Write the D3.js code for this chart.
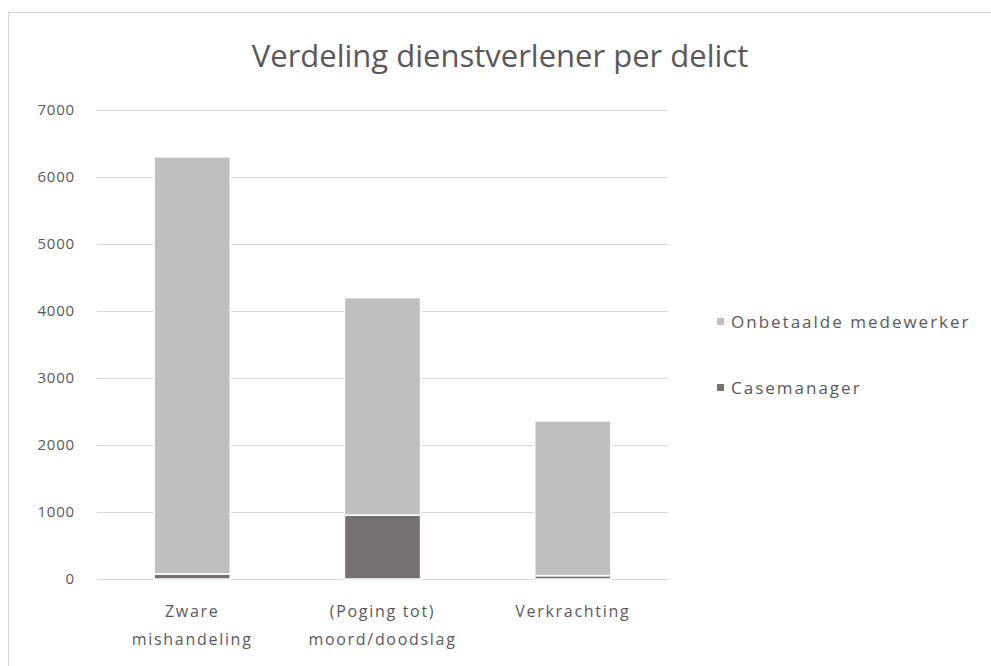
<!DOCTYPE html>
<html>
<head>
<meta charset="utf-8">
<script src="https://cdn.jsdelivr.net/npm/d3@7"></script>
<style>
  body { margin: 0; background: #fff; }
  svg text { font-family: "Open Sans", "Noto Sans", sans-serif; fill: #595959; }
</style>
</head>
<body>
<svg width="991" height="666"></svg>
<script>
// categories, two stacked series
var categories = [["Zware", "mishandeling"], ["(Poging tot)", "moord/doodslag"], ["Verkrachting"]];
var casemanager = [75, 955, 50];
var onbetaald = [6225, 3245, 2310];
var series = ["Casemanager", "Onbetaalde medewerker"];
var colors = ["#767171", "#bfbfbf"];
var yTicks = [0, 1000, 2000, 3000, 4000, 5000, 6000, 7000];

var svg = d3.select("svg");

// chart border
svg.append("rect")
    .attr("x", 8.5).attr("y", 12.5)
    .attr("width", 1200).attr("height", 800)
    .attr("fill", "none").attr("stroke", "#d9d9d9");

svg.append("text")
    .attr("x", 500).attr("y", 67)
    .attr("text-anchor", "middle")
    .style("font-size", "31px")
    .text("Verdeling dienstverlener per delict");

var pLeft = 97, pRight = 668, pTop = 110, pBottom = 579;

var xs = d3.scaleBand().domain(d3.range(categories.length)).range([pLeft, pRight]).paddingInner(0.6).paddingOuter(0.3);
var ys = d3.scaleLinear().domain([0, 7000]).range([pBottom, pTop]);

// gridlines
svg.append("g").selectAll("line").data(yTicks).enter().append("line")
    .attr("x1", pLeft).attr("x2", pRight)
    .attr("y1", function(d){return Math.round(ys(d)) + 0.5})
    .attr("y2", function(d){return Math.round(ys(d)) + 0.5})
    .attr("stroke", "#d9d9d9");

var yAxis = svg.append("g")
    .attr("transform", "translate(" + (pLeft - 22) + ",0)")
    .call(d3.axisLeft(ys).tickValues(yTicks).tickFormat(d3.format("d")).tickSize(0).tickPadding(0));
yAxis.select(".domain").remove();
yAxis.selectAll("text").style("font-size", "15px").style("letter-spacing", "0.8px").attr("fill", "#595959");

// stacked bars
var rows = categories.map(function(c, i){ return {i: i, Casemanager: casemanager[i], "Onbetaalde medewerker": onbetaald[i]}; });
var stack = d3.stack().keys(series)(rows);

svg.append("g").selectAll("g").data(stack).enter().append("g")
    .attr("fill", function(d, k){return colors[k]})
  .selectAll("rect").data(function(d){return d}).enter().append("rect")
    .attr("x", function(d){return xs(d.data.i)})
    .attr("width", xs.bandwidth())
    .attr("y", function(d){return ys(d[1])})
    .attr("height", function(d){return ys(d[0]) - ys(d[1])})
    .attr("stroke", "#fff").attr("stroke-width", 1.5);

// category labels
var xl = svg.append("g").selectAll("text").data(categories).enter().append("text")
    .attr("text-anchor", "middle")
    .attr("x", function(d, i){return xs(i) + xs.bandwidth() / 2})
    .attr("y", 617)
    .style("font-size", "16px")
    .style("letter-spacing", "1.7px");
xl.selectAll("tspan").data(function(d){return d}).enter().append("tspan")
    .attr("x", function(){return d3.select(this.parentNode).attr("x")})
    .attr("dy", function(d, j){return j ? 28 : 0})
    .text(function(d){return d});

// legend
var legend = svg.append("g").selectAll("g").data(["Onbetaalde medewerker", "Casemanager"]).enter().append("g")
    .attr("transform", function(d, i){return "translate(717," + (322 + i * 66) + ")"});
legend.append("rect")
    .attr("x", 0).attr("y", -4).attr("width", 7).attr("height", 7)
    .attr("fill", function(d){return colors[series.indexOf(d)]});
legend.append("text")
    .attr("x", 14).attr("y", 6)
    .style("font-size", "17px")
    .style("letter-spacing", "2px")
    .text(function(d){return d});
</script>
</body>
</html>
